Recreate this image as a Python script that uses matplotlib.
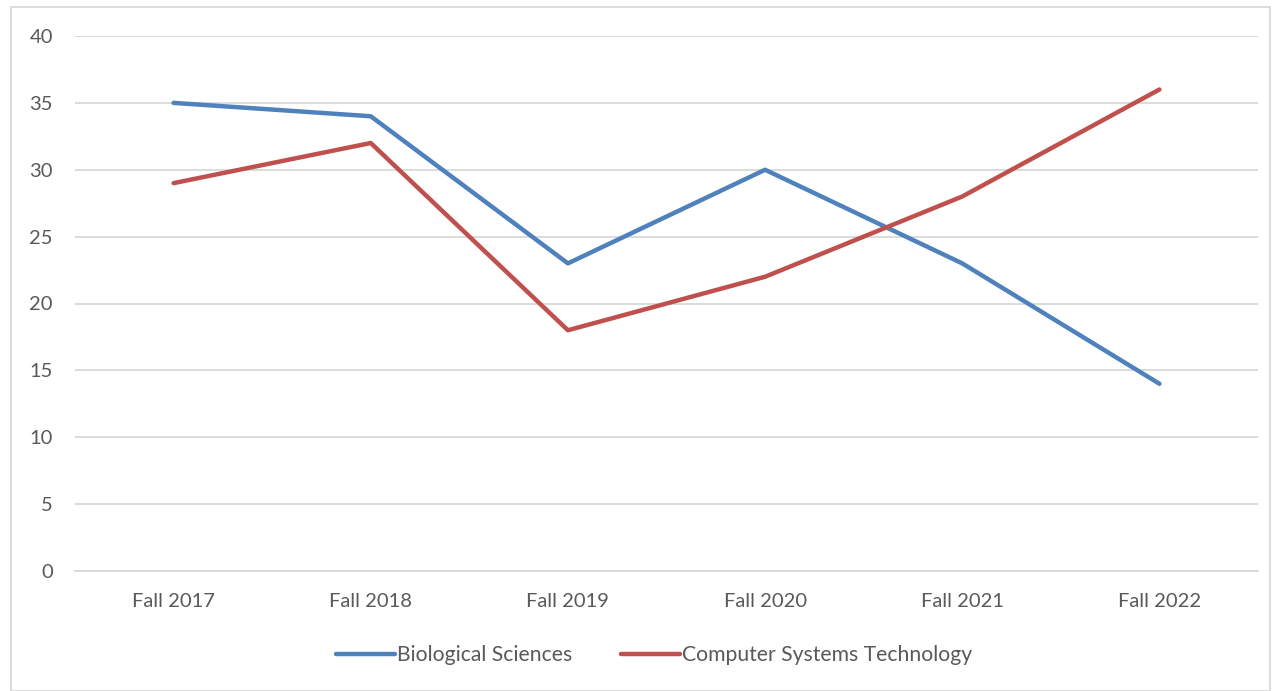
import matplotlib.pyplot as plt
from matplotlib.patches import Rectangle

terms = ['Fall 2017', 'Fall 2018', 'Fall 2019', 'Fall 2020', 'Fall 2021', 'Fall 2022']
bio = [35, 34, 23, 30, 23, 14]
cst = [29, 32, 18, 22, 28, 36]
y_ticks = [0, 5, 10, 15, 20, 25, 30, 35, 40]

plt.rcParams['font.family'] = ['Lato', 'DejaVu Sans']

fig = plt.figure(figsize=(12.72, 6.91), dpi=100)
ax = fig.add_axes([75 / 1272, 1 - 571 / 691, (1258 - 75) / 1272, (571 - 36) / 691])

x = list(range(len(terms)))
ax.plot(x, bio, color='#4F81BD', lw=3.2, solid_capstyle='round', label='Biological Sciences', zorder=3)
ax.plot(x, cst, color='#C0504D', lw=3.2, solid_capstyle='round', label='Computer Systems Technology', zorder=3)

ax.set_xlim(-0.5, len(terms) - 0.5)
ax.set_ylim(0, 40)
ax.set_yticks(y_ticks)
ax.set_xticks(x)
ax.set_xticklabels(terms)
ax.yaxis.grid(True, color='#D9D9D9', lw=1.3)
ax.set_axisbelow(True)
for s in ['top', 'right', 'left']:
    ax.spines[s].set_visible(False)
ax.spines['bottom'].set_color('#D9D9D9')
ax.spines['bottom'].set_linewidth(1.3)
ax.tick_params(axis='both', length=0, labelsize=14.5, colors='#595959')
ax.tick_params(axis='y', pad=16)
ax.tick_params(axis='x', pad=15.5)

fig.legend(loc='center', bbox_to_anchor=(0.514, 1 - 655 / 691), ncol=2, frameon=False,
           fontsize=15.2, handlelength=2.8, handletextpad=0.1, columnspacing=2.3, labelcolor='#595959')

fig.patches.append(Rectangle((11 / 1272, 0), (1270 - 11) / 1272, 1 - 7 / 691, transform=fig.transFigure,
                             fill=False, edgecolor='#D9D9D9', lw=1.3))

fig.savefig('out.png', dpi=100)
